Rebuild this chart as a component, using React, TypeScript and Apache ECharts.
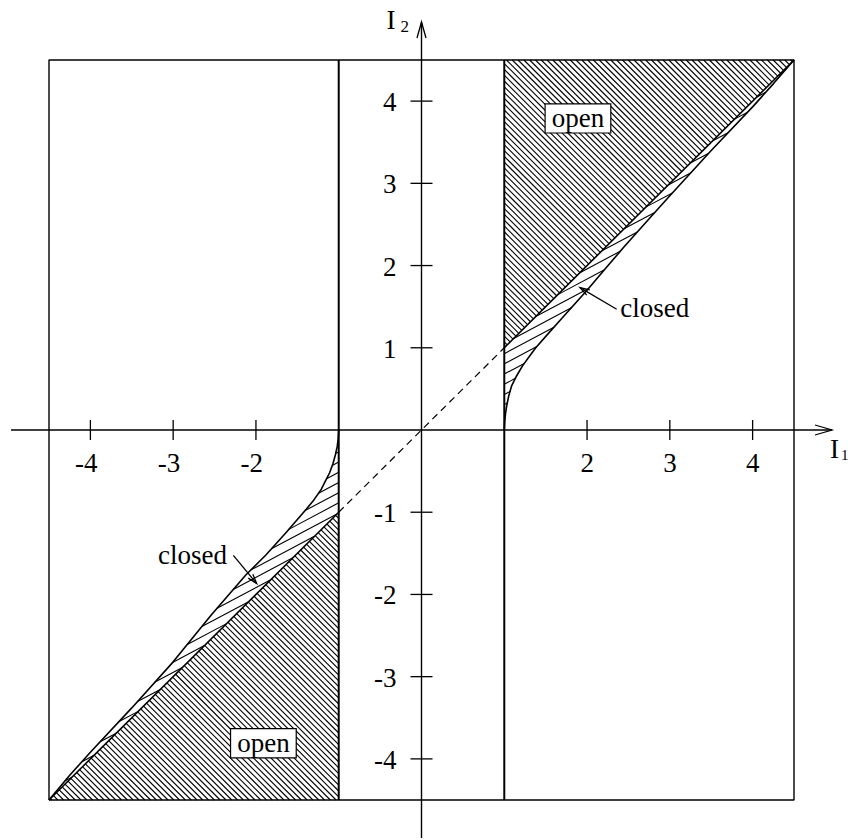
import { useEffect, useRef } from "react";
import * as echarts from "echarts";

// Plane of (I1, I2) values, both axes span the same range
const AXIS_MIN = -4.5;
const AXIS_MAX = 4.5;
const xTickValues = [-4, -3, -2, 2, 3, 4];
const yTickValues = [4, 3, 2, 1, -1, -2, -3, -4];
const separatorX = [-1, 1];

// "open" regions (densely hatched)
const openUpperRight = [[1, 1], [1, 4.5], [4.5, 4.5]];
const openLowerLeft = [[-4.5, -4.5], [-1, -1], [-1, -4.5]];

// I2 = I1 diagonal: solid pieces bound the open regions, dashed piece in between
const diagonalUpper = [[1, 1], [4.5, 4.5]];
const diagonalLower = [[-4.5, -4.5], [-1, -1]];
const diagonalDashed = [[-1, -1], [1, 1]];

// outer edge of the "closed" band
const closedEdgeUpperRight = [
  [1.0, 0.0], [1.005, 0.1], [1.015, 0.2], [1.03, 0.3], [1.055, 0.42], [1.09, 0.54],
  [1.15, 0.66], [1.22, 0.78], [1.3, 0.89], [1.38, 1.0], [1.52, 1.16], [1.68, 1.34],
  [1.84, 1.52], [2.0, 1.7], [2.22, 1.96], [2.44, 2.22], [2.75, 2.57], [3.0, 2.85],
  [3.5, 3.4], [4.0, 3.93], [4.25, 4.21], [4.5, 4.5],
];
const closedEdgeLowerLeft = [
  [-1.0, 0.0], [-1.006, -0.1], [-1.018, -0.2], [-1.04, -0.3], [-1.07, -0.41], [-1.11, -0.52],
  [-1.16, -0.62], [-1.21, -0.72], [-1.3, -0.85], [-1.39, -0.96], [-1.51, -1.1], [-1.63, -1.24],
  [-1.88, -1.52], [-2.12, -1.76], [-2.54, -2.25], [-3.0, -2.82], [-3.5, -3.38], [-4.0, -3.92],
  [-4.25, -4.2], [-4.5, -4.5],
];

const closedUpperRight = [...diagonalUpper, ...closedEdgeUpperRight.slice().reverse()];
const closedLowerLeft = [...diagonalLower, ...closedEdgeLowerLeft];

const FONT = "'Liberation Serif', 'Times New Roman', serif";
const INK = "#000";
const AXIS_OVERHANG = 38;

type Pt = number[];

// Parallel hatch lines (screen space) clipped to a polygon
function hatch(poly: Pt[], angle: number, gap: number): Pt[][] {
  const dx = Math.cos(angle);
  const dy = Math.sin(angle);
  const nx = -dy;
  const ny = dx;
  let lo = Infinity;
  let hi = -Infinity;
  for (const p of poly) {
    const c = p[0] * nx + p[1] * ny;
    lo = Math.min(lo, c);
    hi = Math.max(hi, c);
  }
  const segs: Pt[][] = [];
  for (let c = Math.ceil(lo / gap) * gap; c <= hi; c += gap) {
    const ts: number[] = [];
    for (let i = 0; i < poly.length; i++) {
      const a = poly[i];
      const b = poly[(i + 1) % poly.length];
      const sa = a[0] * nx + a[1] * ny - c;
      const sb = b[0] * nx + b[1] * ny - c;
      if (sa < 0 !== sb < 0) {
        const t = sa / (sa - sb);
        const px = a[0] + (b[0] - a[0]) * t;
        const py = a[1] + (b[1] - a[1]) * t;
        ts.push(px * dx + py * dy);
      }
    }
    ts.sort((u, v) => u - v);
    for (let k = 0; k + 1 < ts.length; k += 2) {
      segs.push([
        [c * nx + ts[k] * dx, c * ny + ts[k] * dy],
        [c * nx + ts[k + 1] * dx, c * ny + ts[k + 1] * dy],
      ]);
    }
  }
  return segs;
}

const lineEl = (a: Pt, b: Pt, width: number) => ({
  type: "line",
  shape: { x1: a[0], y1: a[1], x2: b[0], y2: b[1] },
  style: { stroke: INK, lineWidth: width },
});

const textEl = (x: number, y: number, text: string, size: number, align: string, extra: any = {}) => ({
  type: "text",
  x,
  y,
  style: {
    text,
    fontFamily: FONT,
    fontSize: size,
    fill: INK,
    align,
    verticalAlign: "middle",
    ...extra,
  },
});

const arrowHead = (tail: Pt, tip: Pt, len: number, spread: number) => {
  const th = Math.atan2(tip[1] - tail[1], tip[0] - tail[0]);
  return {
    type: "polyline",
    shape: {
      points: [
        [tip[0] - len * Math.cos(th - spread), tip[1] - len * Math.sin(th - spread)],
        tip,
        [tip[0] - len * Math.cos(th + spread), tip[1] - len * Math.sin(th + spread)],
      ],
    },
    style: { stroke: INK, fill: "none", lineWidth: 1.3 },
  };
};

function buildOption() {
  const hatchedRegions = [
    { pts: openUpperRight, angle: Math.PI / 4, gap: 4.1 },
    { pts: openLowerLeft, angle: Math.PI / 4, gap: 4.1 },
    { pts: closedUpperRight, angle: (-28 * Math.PI) / 180, gap: 9 },
    { pts: closedLowerLeft, angle: (-28 * Math.PI) / 180, gap: 9 },
  ];

  const edge = (data: Pt[], width: number, dashed = false, z = 3) => ({
    type: "line",
    data,
    symbol: "none",
    showSymbol: false,
    clip: false,
    silent: true,
    z,
    lineStyle: { color: INK, width, type: dashed ? [7, 5] : "solid" },
  });

  const box = [
    [AXIS_MIN, AXIS_MIN], [AXIS_MAX, AXIS_MIN], [AXIS_MAX, AXIS_MAX],
    [AXIS_MIN, AXIS_MAX], [AXIS_MIN, AXIS_MIN],
  ];

  return {
    animation: false,
    backgroundColor: "#fff",
    grid: { left: 49, top: 60, width: 745, height: 740 },
    xAxis: { type: "value", min: AXIS_MIN, max: AXIS_MAX, show: false },
    yAxis: { type: "value", min: AXIS_MIN, max: AXIS_MAX, show: false },
    series: [
      {
        type: "custom",
        coordinateSystem: "cartesian2d",
        silent: true,
        clip: false,
        z: 1,
        data: hatchedRegions.map((r) => r.pts[0]),
        renderItem: (params: any, api: any) => {
          const r = hatchedRegions[params.dataIndex];
          const px = r.pts.map((p) => api.coord(p));
          return {
            type: "group",
            children: hatch(px, r.angle, r.gap).map((s) => lineEl(s[0], s[1], 1.1)),
          };
        },
      },
      edge(box, 1.4),
      ...separatorX.map((x) => edge([[x, AXIS_MIN], [x, AXIS_MAX]], 2)),
      edge(diagonalUpper, 1.6),
      edge(diagonalLower, 1.6),
      edge(diagonalDashed, 1.2, true),
      edge(closedEdgeUpperRight, 1.6),
      edge(closedEdgeLowerLeft, 1.6),
      {
        // axes through the origin, with ticks, tick labels and titles
        type: "custom",
        coordinateSystem: "cartesian2d",
        silent: true,
        clip: false,
        z: 5,
        data: [[0, 0]],
        renderItem: (_params: any, api: any) => {
          const o = api.coord([0, 0]);
          const bl = api.coord([AXIS_MIN, AXIS_MIN]);
          const tr = api.coord([AXIS_MAX, AXIS_MAX]);
          const xEnd = tr[0] + AXIS_OVERHANG;
          const yTop = tr[1] - AXIS_OVERHANG;
          const children: any[] = [
            lineEl([bl[0] - AXIS_OVERHANG, o[1]], [xEnd, o[1]], 1.4),
            lineEl([o[0], bl[1] + AXIS_OVERHANG], [o[0], yTop], 1.4),
            {
              type: "polyline",
              shape: { points: [[xEnd - 17, o[1] - 5], [xEnd, o[1]], [xEnd - 17, o[1] + 5]] },
              style: { stroke: INK, fill: "none", lineWidth: 1.3 },
            },
            {
              type: "polyline",
              shape: { points: [[o[0] - 4.5, yTop + 16], [o[0], yTop], [o[0] + 4.5, yTop + 16]] },
              style: { stroke: INK, fill: "none", lineWidth: 1.3 },
            },
          ];
          for (const v of xTickValues) {
            const p = api.coord([v, 0]);
            children.push(lineEl([p[0], p[1] - 10], [p[0], p[1] + 10], 1.3));
            children.push(textEl(p[0] + 7, p[1] + 33, String(v), 27, "right"));
          }
          for (const v of yTickValues) {
            const p = api.coord([0, v]);
            children.push(lineEl([p[0] - 11, p[1]], [p[0] + 11, p[1]], 1.3));
            children.push(textEl(p[0] - 25, p[1] + 1, String(v), 27, "right"));
          }
          // axis titles I1 and I2
          children.push(textEl(xEnd - 2, o[1] + 19, "I", 27, "left"));
          children.push(textEl(xEnd + 9, o[1] + 25, "1", 15, "left"));
          children.push(textEl(o[0] - 35, yTop - 2, "I", 27, "left"));
          children.push(textEl(o[0] - 21, yTop + 4, "2", 17, "left"));
          return { type: "group", children };
        },
      },
      {
        // region labels
        type: "custom",
        coordinateSystem: "cartesian2d",
        silent: true,
        clip: false,
        z: 6,
        data: [[0, 0]],
        renderItem: (_params: any, api: any) => {
          const boxed = { backgroundColor: "#fff", borderColor: INK, borderWidth: 1.2, padding: [1, 6, 1, 6], lineHeight: 26 };
          const openA = api.coord([1.89, 3.79]);
          const openB = api.coord([-1.91, -3.81]);
          const tailA = api.coord([2.358, 1.468]);
          const tipA = api.coord([1.915, 1.731]);
          const textA = api.coord([2.4, 1.48]);
          const tailB = api.coord([-2.273, -1.525]);
          const tipB = api.coord([-1.991, -1.868]);
          const textB = api.coord([-2.35, -1.516]);
          return {
            type: "group",
            children: [
              textEl(openA[0], openA[1], "open", 27, "center", boxed),
              textEl(openB[0], openB[1], "open", 27, "center", boxed),
              lineEl(tailA, tipA, 1.3),
              arrowHead(tailA, tipA, 10, 0.3),
              textEl(textA[0], textA[1], "closed", 27, "left"),
              lineEl(tailB, tipB, 1.3),
              arrowHead(tailB, tipB, 10, 0.3),
              textEl(textB[0], textB[1], "closed", 27, "right"),
            ],
          };
        },
      },
    ],
  };
}

export default function App() {
  const ref = useRef<HTMLDivElement>(null);
  useEffect(() => {
    if (!ref.current) return;
    const chart = echarts.init(ref.current, undefined, { renderer: "svg" });
    chart.setOption(buildOption() as any);
    return () => chart.dispose();
  }, []);
  return (
    <div
      ref={ref}
      style={{ position: "absolute", left: 0, top: 0, width: 848, height: 840, background: "#fff" }}
    />
  );
}
